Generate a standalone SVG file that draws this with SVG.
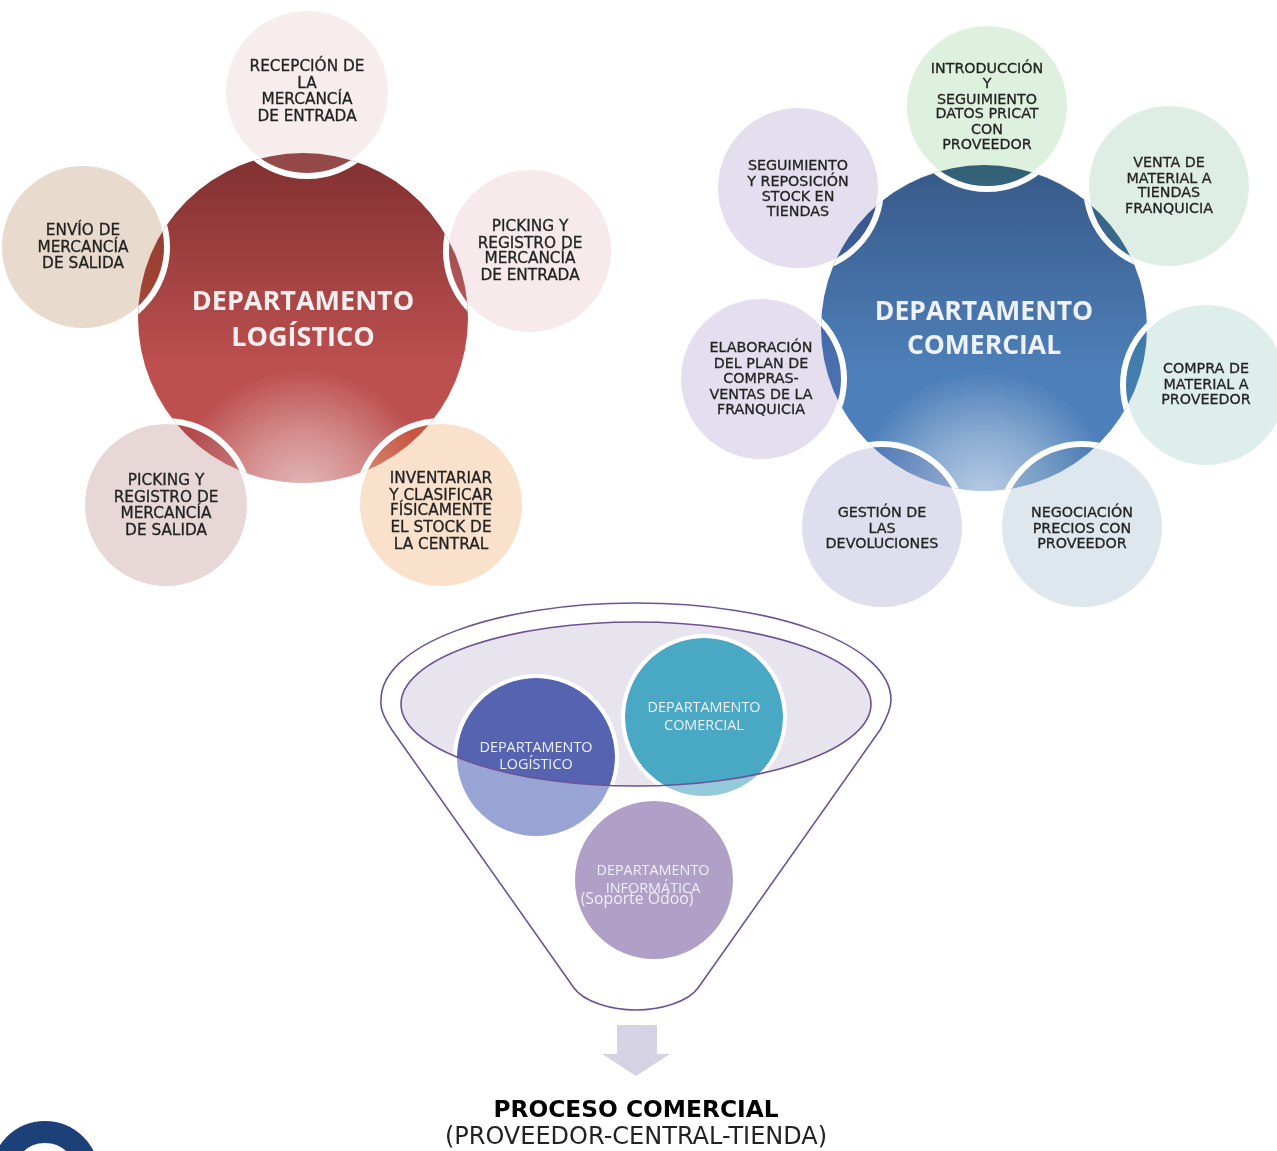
<svg xmlns="http://www.w3.org/2000/svg" width="1277" height="1151" viewBox="0 0 1277 1151">
<defs>
<style>
.sat{font-family:"DejaVu Sans",Verdana,sans-serif;font-size:15.3px;fill:#242424;text-anchor:middle;stroke:#242424;stroke-width:.3}
.satc{font-family:"DejaVu Sans",Verdana,sans-serif;font-size:14.3px;fill:#242424;text-anchor:middle;stroke:#242424;stroke-width:.3}
.title{font-family:"Open Sans",sans-serif;font-weight:700;font-size:27px;fill:#f7efef;text-anchor:middle}
.titlec{font-family:"Open Sans",sans-serif;font-weight:700;font-size:26.5px;fill:#eef2f8;text-anchor:middle}
.small{font-family:"Open Sans",sans-serif;font-size:14.4px;fill:#eef0f6;text-anchor:middle}
.ring{fill:none;stroke:#fff;stroke-width:6}
.line{fill:none;stroke:#6d5296;stroke-width:1.6}
.s{fill-opacity:.2}
.t{fill-opacity:.13}
</style>
<linearGradient id="gr" x1="0" y1="0" x2="0" y2="1"><stop offset="0" stop-color="#813030"/><stop offset=".65" stop-color="#bd5050"/><stop offset="1" stop-color="#bd5050"/></linearGradient>
<linearGradient id="gb" x1="0" y1="0" x2="0" y2="1"><stop offset="0" stop-color="#375a88"/><stop offset=".65" stop-color="#4e80ba"/><stop offset="1" stop-color="#4e80ba"/></linearGradient>
<radialGradient id="hl"><stop offset="0" stop-color="#fff" stop-opacity=".6"/><stop offset=".5" stop-color="#fff" stop-opacity=".34"/><stop offset="1" stop-color="#fff" stop-opacity="0"/></radialGradient>
<clipPath id="cr"><circle cx="303" cy="318" r="165"/></clipPath>
<clipPath id="cb"><circle cx="984" cy="328" r="163"/></clipPath>
<clipPath id="ce"><ellipse cx="636" cy="704" rx="235" ry="82"/></clipPath>
<filter id="soft" x="0" y="0" width="1" height="1"><feGaussianBlur stdDeviation=".55"/></filter>
</defs>
<rect width="1277" height="1151" fill="#fff"/>
<g filter="url(#soft)">
<g id="logistico">
<g id="log-main">
<circle cx="303" cy="318" r="165" fill="url(#gr)"/>
<g clip-path="url(#cr)"><ellipse cx="303" cy="492" rx="128" ry="122" fill="url(#hl)"/>
<g class="ring"><circle cx="307" cy="92" r="84"/><circle cx="530" cy="251" r="84"/><circle cx="441" cy="505" r="84"/><circle cx="166" cy="505" r="84"/><circle cx="83" cy="247" r="84"/></g></g>
<text class="title" x="303" y="310">DEPARTAMENTO</text><text class="title" x="303" y="346">LOGÍSTICO</text>
</g>
<g id="log-1"><circle class="s" cx="307" cy="92" r="81" fill="#dca6a6"/><text class="sat" x="307" y="71">RECEPCIÓN DE</text><text class="sat" x="307" y="88">LA</text><text class="sat" x="307" y="104">MERCANCÍA</text><text class="sat" x="307" y="121">DE ENTRADA</text></g>
<g id="log-2"><circle class="s" cx="530" cy="251" r="81" fill="#d2969f"/><text class="sat" x="530" y="231">PICKING Y</text><text class="sat" x="530" y="248">REGISTRO DE</text><text class="sat" x="530" y="263">MERCANCÍA</text><text class="sat" x="530" y="280">DE ENTRADA</text></g>
<g id="log-3"><circle class="s" cx="441" cy="505" r="81" fill="#e66900"/><text class="sat" x="441" y="483">INVENTARIAR</text><text class="sat" x="441" y="500">Y CLASIFICAR</text><text class="sat" x="441" y="515">FÍSICAMENTE</text><text class="sat" x="441" y="532">EL STOCK DE</text><text class="sat" x="441" y="549">LA CENTRAL</text></g>
<g id="log-4"><circle class="s" cx="166" cy="505" r="81" fill="#8c323c"/><text class="sat" x="166" y="485">PICKING Y</text><text class="sat" x="166" y="502">REGISTRO DE</text><text class="sat" x="166" y="518">MERCANCÍA</text><text class="sat" x="166" y="535">DE SALIDA</text></g>
<g id="log-5"><circle class="s" cx="83" cy="247" r="81" fill="#8c4600"/><text class="sat" x="83" y="235">ENVÍO DE</text><text class="sat" x="83" y="252">MERCANCÍA</text><text class="sat" x="83" y="268">DE SALIDA</text></g>
</g>
<g id="comercial">
<g id="com-main">
<circle cx="984" cy="328" r="163" fill="url(#gb)"/>
<g clip-path="url(#cb)"><ellipse cx="984" cy="495" rx="128" ry="122" fill="url(#hl)"/>
<g class="ring"><circle cx="987" cy="106" r="83"/><circle cx="1169" cy="186" r="83"/><circle cx="1206" cy="385" r="83"/><circle cx="1082" cy="527" r="83"/><circle cx="882" cy="527" r="83"/><circle cx="761" cy="379" r="83"/><circle cx="798" cy="188" r="83"/></g></g>
<text class="titlec" x="984" y="320">DEPARTAMENTO</text><text class="titlec" x="984" y="354">COMERCIAL</text>
</g>
<g id="com-1"><circle class="t" cx="987" cy="106" r="80" fill="#188c00"/><text class="satc" x="987" y="73">INTRODUCCIÓN</text><text class="satc" x="987" y="88">Y</text><text class="satc" x="987" y="104">SEGUIMIENTO</text><text class="satc" x="987" y="118">DATOS PRICAT</text><text class="satc" x="987" y="134">CON</text><text class="satc" x="987" y="149">PROVEEDOR</text></g>
<g id="com-2"><circle class="t" cx="1169" cy="186" r="80" fill="#117c2f"/><text class="satc" x="1169" y="167">VENTA DE</text><text class="satc" x="1169" y="183">MATERIAL A</text><text class="satc" x="1169" y="197">TIENDAS</text><text class="satc" x="1169" y="213">FRANQUICIA</text></g>
<g id="com-3"><circle class="t" cx="1206" cy="385" r="80" fill="#017c65"/><text class="satc" x="1206" y="373">COMPRA DE</text><text class="satc" x="1206" y="389">MATERIAL A</text><text class="satc" x="1206" y="404">PROVEEDOR</text></g>
<g id="com-4"><circle class="t" cx="1082" cy="527" r="80" fill="#013f7c"/><text class="satc" x="1082" y="517">NEGOCIACIÓN</text><text class="satc" x="1082" y="533">PRECIOS CON</text><text class="satc" x="1082" y="548">PROVEEDOR</text></g>
<g id="com-5"><circle class="t" cx="882" cy="527" r="80" fill="#18207c"/><text class="satc" x="882" y="517">GESTIÓN DE</text><text class="satc" x="882" y="533">LAS</text><text class="satc" x="882" y="548">DEVOLUCIONES</text></g>
<g id="com-6"><circle class="t" cx="761" cy="379" r="80" fill="#2f117c"/><text class="satc" x="761" y="352">ELABORACIÓN</text><text class="satc" x="761" y="368">DEL PLAN DE</text><text class="satc" x="761" y="383">COMPRAS-</text><text class="satc" x="761" y="399">VENTAS DE LA</text><text class="satc" x="761" y="414">FRANQUICIA</text></g>
<g id="com-7"><circle class="t" cx="798" cy="188" r="80" fill="#2f117c"/><text class="satc" x="798" y="170">SEGUIMIENTO</text><text class="satc" x="798" y="186">Y REPOSICIÓN</text><text class="satc" x="798" y="201">STOCK EN</text><text class="satc" x="798" y="216">TIENDAS</text></g>
</g>
<g id="embudo">
<path class="line" d="M392 730C383 716 380 708 381 700C381 645 495 603 636 603C777 603 891 645 891 700C891 708 888 716 880 730L698 988C688 1002 660 1010 636 1010C612 1010 584 1002 574 988Z" fill="#fff"/>
<ellipse cx="636" cy="704" rx="235" ry="82" fill="#e8e4ee"/>
<g id="f-logistico"><circle cx="536" cy="757" r="79" fill="#98a4d4"/><g clip-path="url(#ce)"><circle cx="536" cy="757" r="79" fill="#5464b0"/><circle cx="536" cy="757" r="81" fill="none" stroke="#fff" stroke-width="4"/></g><text class="small" x="536" y="752">DEPARTAMENTO</text><text class="small" x="536" y="769">LOGÍSTICO</text></g>
<g id="f-comercial"><circle cx="704" cy="717" r="79" fill="#94cadc"/><g clip-path="url(#ce)"><circle cx="704" cy="717" r="79" fill="#48a8c4"/><circle cx="704" cy="717" r="81" fill="none" stroke="#fff" stroke-width="4"/></g><text class="small" x="704" y="712">DEPARTAMENTO</text><text class="small" x="704" y="730">COMERCIAL</text></g>
<ellipse class="line" cx="636" cy="704" rx="235" ry="82" stroke-width="2"/>
<g id="f-informatica"><circle cx="654" cy="880" r="79" fill="#b09fc6"/><text class="small" x="653" y="875">DEPARTAMENTO</text><text class="small" x="653" y="893">INFORMÁTICA</text><text x="637" y="904" font-family="'Open Sans',sans-serif" font-size="15.8" fill="#f0ecf4" text-anchor="middle">(Soporte Odoo)</text></g>
</g>
<g id="conectores"><path d="M617 1025H657V1054H670L636 1076L602 1054H617Z" fill="#d5d3e3"/></g>
<g id="resultado">
<text x="636" y="1117" font-family="'DejaVu Sans',sans-serif" font-weight="700" font-size="23.3" fill="#000" text-anchor="middle">PROCESO COMERCIAL</text>
<text x="636" y="1144" font-family="'DejaVu Sans',sans-serif" font-size="24" fill="#222" text-anchor="middle">(PROVEEDOR-CENTRAL-TIENDA)</text>
</g>
<g id="logo"><circle cx="45" cy="1175" r="43" fill="none" stroke="#1f3f78" stroke-width="22"/></g>
</g>
</svg>
